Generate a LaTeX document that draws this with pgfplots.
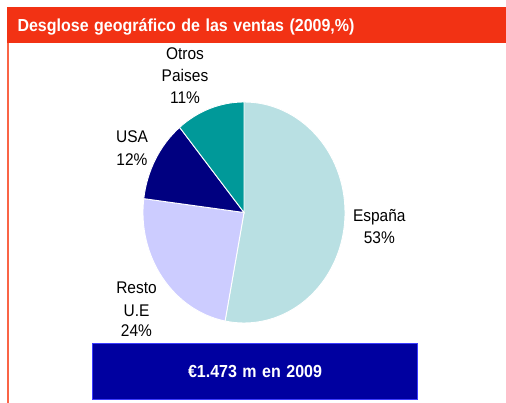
\documentclass[border=0pt]{standalone}
\usepackage{pgfplots}
\pgfplotsset{compat=1.18}
\usepackage{pgfplotstable}
\usepackage{fontspec}
\setmainfont{Liberation Sans}

\definecolor{espana}{RGB}{185,224,227}
\definecolor{resto}{RGB}{204,204,255}
\definecolor{usa}{RGB}{0,0,128}
\definecolor{otros}{RGB}{0,153,153}
\definecolor{titlered}{RGB}{242,50,20}
\definecolor{sidered}{RGB}{250,100,70}
\definecolor{boxblue}{RGB}{0,0,160}
\definecolor{boxedge}{RGB}{60,60,255}

\newcommand\wide{\spaceskip=5.5pt plus 1pt\relax}

% share of sales by region, clockwise from 12 o'clock
\pgfplotstableread{
region pct col
Espana 53 espana
RestoUE 24 resto
USA 12 usa
Otros 11 otros
}\piedata

\begin{document}
\begin{tikzpicture}[
  lbl/.style={anchor=base, font=\fontsize{15.5}{18}\selectfont, yscale=1.09, transform shape},
  bold/.style={anchor=base, font=\fontsize{16}{18}\selectfont\bfseries, white, yscale=1.09, transform shape},
]
\begin{axis}[
  width=506pt, height=403pt, scale only axis,
  xmin=0, xmax=506, ymin=0, ymax=403,
  hide axis, clip=false,
]
% keep the whole canvas as bounding box
\path (axis cs:0,0) rectangle (axis cs:506,403);
% frame: title bar and left rule
\fill[titlered] (axis cs:7,360) rectangle (axis cs:506,396);
\fill[sidered] (axis cs:6.5,0) rectangle (axis cs:8.5,360);
\node[bold, anchor=base west] at (axis cs:14,371.3) {\wide Desglose geográfico de las ventas (2009,\%)};

% pie slices
\pgfplotsextra{
  \def\cum{0}
  \pgfplotsforeachungrouped \i in {0,...,3}{
    \pgfplotstablegetelem{\i}{pct}\of{\piedata}\let\pct\pgfplotsretval
    \pgfplotstablegetelem{\i}{col}\of{\piedata}\let\col\pgfplotsretval
    \pgfmathsetmacro\a{90-3.6*\cum}
    \pgfmathsetmacro\b{90-3.6*(\cum+\pct)}
    \fill[\col, draw=white, line width=0.9pt] (axis cs:244,190.5) -- ++(\a:101pt and 110.5pt)
      arc[start angle=\a, end angle=\b, x radius=101pt, y radius=110.5pt] -- cycle;
    \pgfmathsetmacro\cum{\cum+\pct}
  }
}

% labels
\node[lbl] at (axis cs:185,343) {Otros};
\node[lbl] at (axis cs:185,321.3) {Paises};
\node[lbl] at (axis cs:185,299) {11\%};
\node[lbl] at (axis cs:132,260.3) {USA};
\node[lbl] at (axis cs:132,237) {12\%};
\node[lbl] at (axis cs:136.5,109.7) {Resto};
\node[lbl] at (axis cs:136.5,86) {U.E};
\node[lbl] at (axis cs:136.5,66) {24\%};
\node[lbl] at (axis cs:379.3,181.3) {España};
\node[lbl] at (axis cs:379.3,159.7) {53\%};

% total box
\filldraw[fill=boxblue, draw=boxedge, line width=0.8pt] (axis cs:92,4) rectangle (axis cs:417,60);
\node[bold] at (axis cs:255,25.5) {\wide €1.473 m en 2009};
\end{axis}
\end{tikzpicture}
\end{document}
